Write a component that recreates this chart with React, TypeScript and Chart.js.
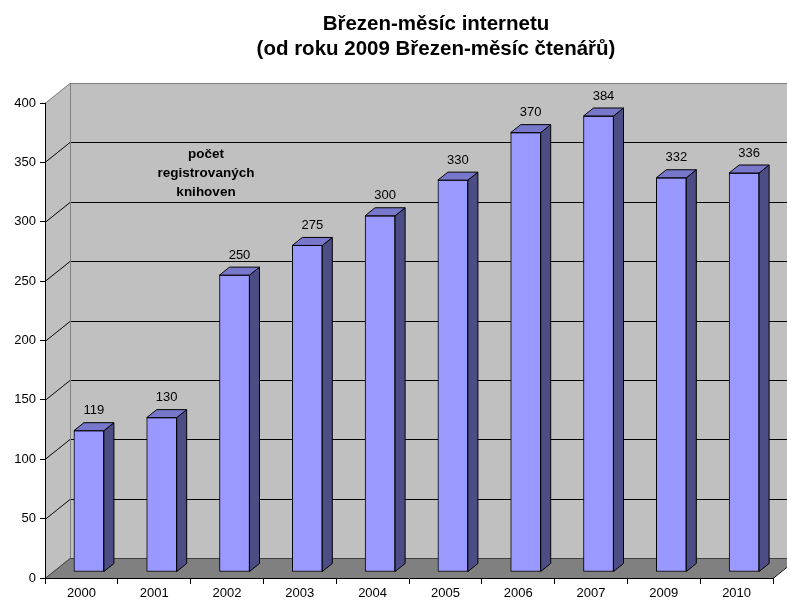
import React, { useEffect, useRef } from "react";
import { Chart, registerables } from "chart.js";

Chart.register(...registerables);

const categories = ["2000", "2001", "2002", "2003", "2004", "2005", "2006", "2007", "2009", "2010"];
const values = [119, 130, 250, 275, 300, 330, 370, 384, 332, 336];
const titleLines = ["Březen-měsíc internetu", "(od roku 2009 Březen-měsíc čtenářů)"];
const noteLines = ["počet", "registrovaných", "knihoven"];
const yMax = 400;
const yStep = 50;

const FONT = "'Liberation Sans', Arial, sans-serif";
const DX = 25;
const DY = 20;
const BAR_OX = 7.5;
const BAR_OY = 6;
const BAR_DX = 10;
const BAR_DY = 8;

const wallPlugin = {
  id: "walls3d",
  beforeDraw(chart: any) {
    const { ctx, chartArea } = chart;
    const { left, right, top, bottom } = chartArea;
    const y = chart.scales.y;
    ctx.save();
    ctx.fillStyle = "#c0c0c0";
    ctx.fillRect(left + DX, top - DY, right + DX - (left + DX), bottom - top);
    ctx.beginPath();
    ctx.moveTo(left, top);
    ctx.lineTo(left + DX, top - DY);
    ctx.lineTo(left + DX, bottom - DY);
    ctx.lineTo(left, bottom);
    ctx.closePath();
    ctx.fill();
    ctx.fillStyle = "#808080";
    ctx.beginPath();
    ctx.moveTo(left, bottom);
    ctx.lineTo(right, bottom);
    ctx.lineTo(right + DX, bottom - DY);
    ctx.lineTo(left + DX, bottom - DY);
    ctx.closePath();
    ctx.fill();
    ctx.lineWidth = 1;
    for (let v = yStep; v < yMax; v += yStep) {
      const py = Math.round(y.getPixelForValue(v)) + 0.5;
      ctx.strokeStyle = "#000000";
      ctx.beginPath();
      ctx.moveTo(left, py);
      ctx.lineTo(left + DX, py - DY);
      ctx.lineTo(right + DX, py - DY);
      ctx.stroke();
    }
    ctx.strokeStyle = "#808080";
    const t = Math.round(top) + 0.5;
    ctx.beginPath();
    ctx.moveTo(left, t);
    ctx.lineTo(left + DX, t - DY);
    ctx.lineTo(right + DX, t - DY);
    ctx.stroke();
    ctx.beginPath();
    ctx.moveTo(left + DX + 0.5, t - DY);
    ctx.lineTo(left + DX + 0.5, bottom - DY);
    ctx.stroke();
    const b = Math.round(bottom) + 0.5;
    ctx.strokeStyle = "#404040";
    ctx.beginPath();
    ctx.moveTo(left, b);
    ctx.lineTo(left + DX, b - DY);
    ctx.lineTo(right + DX, b - DY);
    ctx.stroke();
    ctx.strokeStyle = "#000000";
    ctx.beginPath();
    ctx.moveTo(right, b);
    ctx.lineTo(right + DX, b - DY);
    ctx.stroke();
    ctx.restore();
  },
  beforeDatasetDraw(chart: any) {
    chart.ctx.save();
    chart.ctx.translate(BAR_OX, -BAR_OY);
  },
  afterDatasetDraw(chart: any) {
    chart.ctx.restore();
  },
  afterDatasetsDraw(chart: any) {
    const { ctx } = chart;
    const meta = chart.getDatasetMeta(0);
    ctx.save();
    ctx.lineWidth = 1;
    ctx.strokeStyle = "#000000";
    meta.data.forEach((el: any, i: number) => {
      const p = el.getProps(["x", "y", "base", "width"], true);
      const fl = p.x - p.width / 2 + BAR_OX;
      const fr = p.x + p.width / 2 + BAR_OX;
      const ty = p.y - BAR_OY;
      const by = p.base - BAR_OY;
      ctx.fillStyle = "#4d4d85";
      ctx.beginPath();
      ctx.moveTo(fr, ty);
      ctx.lineTo(fr + BAR_DX, ty - BAR_DY);
      ctx.lineTo(fr + BAR_DX, by - BAR_DY);
      ctx.lineTo(fr, by);
      ctx.closePath();
      ctx.fill();
      ctx.stroke();
      ctx.fillStyle = "#7777cc";
      ctx.beginPath();
      ctx.moveTo(fl, ty);
      ctx.lineTo(fl + BAR_DX, ty - BAR_DY);
      ctx.lineTo(fr + BAR_DX, ty - BAR_DY);
      ctx.lineTo(fr, ty);
      ctx.closePath();
      ctx.fill();
      ctx.stroke();
      ctx.fillStyle = "#000000";
      ctx.font = `13px ${FONT}`;
      ctx.textAlign = "center";
      ctx.textBaseline = "middle";
      ctx.fillText(String(values[i]), (fl + fr + BAR_DX) / 2, ty - BAR_DY - 12);
    });
    ctx.restore();
  },
  afterDraw(chart: any) {
    const { ctx } = chart;
    ctx.save();
    ctx.fillStyle = "#000000";
    ctx.textAlign = "center";
    ctx.textBaseline = "alphabetic";
    ctx.font = `bold 20.5px ${FONT}`;
    ctx.fillText(titleLines[0], 436, 30);
    ctx.fillText(titleLines[1], 436, 55);
    ctx.font = `bold 13.5px ${FONT}`;
    noteLines.forEach((s, i) => ctx.fillText(s, 206, 158 + i * 19));
    ctx.restore();
  },
};

export default function App() {
  const ref = useRef<HTMLCanvasElement | null>(null);
  useEffect(() => {
    if (!ref.current) return;
    const chart = new Chart(ref.current, {
      type: "bar",
      data: {
        labels: categories,
        datasets: [
          {
            data: values,
            backgroundColor: "#9999ff",
            borderColor: "#000000",
            borderWidth: 1,
            borderSkipped: false,
            barThickness: 30,
            clip: false as any,
          },
        ],
      },
      options: {
        animation: false,
        responsive: false,
        layout: { padding: { top: 103, right: 14, left: 0, bottom: 0 } },
        plugins: { legend: { display: false }, tooltip: { enabled: false }, title: { display: false } },
        scales: {
          x: {
            type: "category",
            offset: true,
            grid: { offset: true, drawOnChartArea: false, tickLength: 6, color: "#000000" },
            border: { color: "#000000" },
            ticks: { color: "#000000", font: { family: FONT, size: 13 }, padding: 2, maxRotation: 0 },
            afterFit: (s: any) => { s.height = 28; },
          },
          y: {
            min: 0,
            max: yMax,
            ticks: { stepSize: yStep, color: "#000000", font: { family: FONT, size: 13 }, padding: 4 },
            grid: { drawOnChartArea: false, tickLength: 5, color: "#000000" },
            border: { color: "#000000" },
            afterFit: (s: any) => { s.width = 45; },
          },
        },
      },
      plugins: [wallPlugin],
    });
    return () => chart.destroy();
  }, []);
  return (
    <canvas
      ref={ref}
      width={787}
      height={606}
      style={{ position: "absolute", left: 0, top: 0, width: 787, height: 606 }}
    />
  );
}
